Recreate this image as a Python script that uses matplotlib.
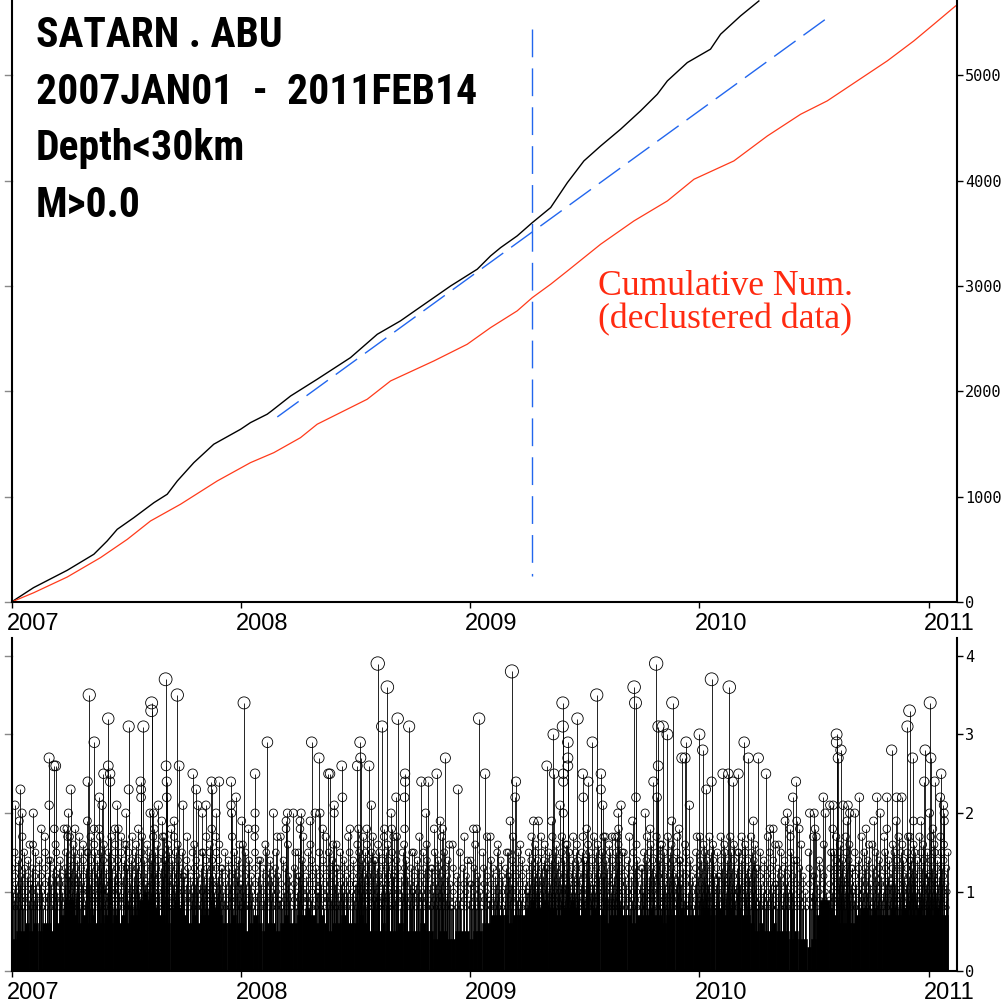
import numpy as np
import matplotlib
matplotlib.use("Agg")
import matplotlib.pyplot as plt
from matplotlib.transforms import ScaledTranslation

plt.rcParams['lines.scale_dashes'] = False

# cumulative number of events (all / declustered), decimal years
black_t = [2007.0, 2007.096, 2007.243, 2007.359, 2007.417, 2007.461, 2007.533, 2007.621,
           2007.679, 2007.723, 2007.795, 2007.882, 2007.999, 2008.042, 2008.115, 2008.134,
           2008.217, 2008.333, 2008.478, 2008.595, 2008.696, 2008.769, 2008.915, 2009.031,
           2009.089, 2009.133, 2009.205, 2009.271, 2009.351, 2009.424, 2009.496, 2009.569,
           2009.656, 2009.743, 2009.816, 2009.860, 2009.947, 2010.048, 2010.092, 2010.179,
           2010.259]
black_n = [0, 136, 301, 453, 579, 690, 800, 943, 1023, 1149, 1323, 1498, 1640, 1703, 1783,
           1814, 1956, 2115, 2320, 2542, 2669, 2780, 3001, 3160, 3286, 3365, 3476, 3602, 3745,
           3982, 4188, 4330, 4489, 4663, 4821, 4948, 5122, 5249, 5391, 5565, 5707]

red_t = [2007.0, 2007.097, 2007.243, 2007.388, 2007.505, 2007.606, 2007.737, 2007.897,
         2008.042, 2008.144, 2008.260, 2008.333, 2008.551, 2008.653, 2008.842, 2008.987,
         2009.089, 2009.205, 2009.271, 2009.351, 2009.424, 2009.569, 2009.714, 2009.860,
         2009.976, 2010.150, 2010.296, 2010.441, 2010.557, 2010.688, 2010.819, 2010.935,
         2011.022, 2011.117]
red_n = [0, 88, 237, 421, 595, 769, 928, 1149, 1323, 1418, 1560, 1688, 1925, 2099, 2289,
         2447, 2605, 2764, 2890, 3017, 3143, 3397, 3618, 3808, 4014, 4188, 4425, 4631, 4758,
         4948, 5138, 5328, 5486, 5660]

trend_t = [2008.159, 2010.550]
trend_n = [1757, 5534]
mark_t = 2009.268
mark_n = [5442, 250]

# larger events: (years after 2007.0, magnitude)
big_events = [
    (0.672, 3.7), (0.339, 3.5), (0.723, 3.5), (0.611, 3.4), (0.611, 3.3), (1.014, 3.4),
    (0.422, 3.2), (0.511, 3.1), (0.575, 3.1), (0.361, 2.9), (1.116, 2.9), (1.309, 2.9),
    (0.164, 2.7), (0.185, 2.6), (0.193, 2.6), (1.341, 2.7), (0.422, 2.6), (0.401, 2.5),
    (0.430, 2.5), (0.430, 2.4), (0.674, 2.6), (0.731, 2.6), (1.062, 2.5), (1.382, 2.5),
    (0.790, 2.5), (0.332, 2.4), (0.563, 2.4), (0.677, 2.4), (0.872, 2.4), (0.905, 2.4),
    (0.957, 2.4), (0.039, 2.3), (0.258, 2.3), (0.511, 2.3), (0.565, 2.3), (0.565, 2.2),
    (0.805, 2.3), (0.876, 2.3), (0.383, 2.2), (0.677, 2.2), (0.979, 2.2), (0.015, 2.1),
    (0.164, 2.1), (0.395, 2.1), (0.459, 2.1), (0.640, 2.1), (0.747, 2.1), (0.812, 2.1),
    (0.848, 2.1), (0.957, 2.1), (0.046, 2.0), (0.095, 2.0), (0.248, 2.0), (0.498, 2.0),
    (0.604, 2.0), (0.619, 2.0), (0.832, 2.0), (0.892, 2.0), (0.960, 2.0), (1.062, 2.0),
    (1.142, 2.0), (1.203, 2.0), (1.229, 2.0), (1.263, 2.0), (1.324, 2.0), (1.345, 2.0),
    (0.034, 1.9), (0.331, 1.9), (0.655, 1.9), (0.709, 1.9), (1.004, 1.9), (1.197, 1.9),
    (1.258, 1.9), (1.302, 1.9),
    (0.130, 1.8), (0.187, 1.8), (0.229, 1.8), (0.241, 1.8), (0.277, 1.8), (0.360, 1.8),
    (0.382, 1.8), (0.451, 1.8), (0.466, 1.8), (0.553, 1.8), (0.623, 1.8), (0.696, 1.8),
    (0.873, 1.8), (1.033, 1.8), (1.062, 1.8), (1.197, 1.8), (1.258, 1.8), (1.357, 1.8),
    (1.597, 3.9), (1.639, 3.6), (1.616, 3.1), (1.684, 3.2), (1.734, 3.1), (1.520, 2.9),
    (1.523, 2.7), (1.508, 2.6), (1.440, 2.6), (1.559, 2.6), (1.389, 2.5), (1.716, 2.5),
    (1.716, 2.4), (1.787, 2.4), (1.818, 2.4), (1.854, 2.5), (1.892, 2.7), (1.946, 2.3),
    (2.039, 3.2), (2.065, 2.5), (2.182, 3.8), (2.200, 2.4), (2.196, 2.2), (2.174, 1.9),
    (2.334, 2.6), (2.363, 3.0), (2.366, 2.5), (2.404, 3.4), (2.404, 3.1), (2.406, 2.5),
    (2.406, 2.4), (2.426, 2.9), (2.426, 2.7), (2.426, 2.6), (2.468, 3.2), (2.491, 2.5),
    (2.516, 2.4), (2.533, 2.9), (2.552, 3.5), (2.570, 2.5), (2.570, 2.3), (2.715, 3.6),
    (2.721, 3.4), (2.799, 2.4), (2.811, 3.9), (2.821, 3.1), (2.820, 2.6),
    (1.443, 2.2), (1.569, 2.1), (1.677, 2.2), (1.714, 2.2), (1.407, 2.1), (1.407, 2.0),
    (1.655, 2.0), (1.806, 2.0), (1.869, 1.9), (2.644, 2.0), (2.658, 2.1), (2.763, 2.0),
    (2.723, 2.2), (2.815, 2.2), (2.392, 2.1), (2.406, 2.0), (2.493, 2.2), (2.578, 2.1),
    (2.276, 1.9), (2.298, 1.9), (2.355, 1.9), (2.708, 1.9), (2.014, 1.8), (2.028, 1.8),
    (1.476, 1.8), (1.513, 1.8), (1.549, 1.8), (1.626, 1.8), (1.658, 1.8), (1.714, 1.8),
    (1.843, 1.8), (1.880, 1.8), (2.508, 1.8), (2.619, 1.7), (2.642, 1.7), (2.647, 1.8),
    (2.785, 1.8),
    (2.840, 3.1), (2.860, 3.0), (2.883, 3.4), (2.923, 2.7), (2.937, 2.7), (2.942, 2.9),
    (2.956, 2.1), (3.000, 3.0), (3.014, 2.8), (3.029, 2.3), (3.053, 3.7), (3.053, 2.4),
    (3.101, 2.5), (3.126, 2.5), (3.130, 3.6), (3.145, 2.4), (3.170, 2.5), (3.195, 2.9),
    (3.213, 2.7), (3.257, 2.7), (3.290, 2.5), (3.421, 2.4), (3.407, 2.2), (3.383, 2.0),
    (3.540, 2.2), (3.598, 3.0), (3.598, 2.9), (3.605, 2.7), (3.617, 2.8), (3.568, 2.1),
    (3.583, 2.1), (3.626, 2.1), (3.648, 2.1), (3.655, 2.0), (3.677, 2.0), (3.697, 2.2),
    (3.480, 2.0), (3.500, 2.0), (3.548, 2.0), (3.773, 2.2), (3.817, 2.2), (3.788, 2.0),
    (3.838, 2.8), (3.860, 2.2), (3.882, 2.2), (3.907, 3.1), (3.916, 3.3), (3.929, 2.7),
    (3.984, 2.8), (3.980, 2.4), (4.006, 3.4), (4.009, 2.7), (4.003, 2.0), (4.025, 2.4),
    (4.054, 2.5), (4.050, 2.2), (4.064, 2.1), (4.067, 2.0), (4.068, 1.9),
    (2.879, 1.9), (3.235, 1.9), (3.373, 1.9), (3.424, 1.9), (3.643, 1.9), (3.759, 1.9),
    (3.858, 1.9), (3.933, 1.9), (3.965, 1.9),
    (2.911, 1.8), (3.307, 1.8), (3.322, 1.8), (3.394, 1.8), (3.435, 1.8), (3.504, 1.8),
    (3.581, 1.8), (3.726, 1.8), (3.817, 1.8), (4.018, 1.8),
]

# monthly counts of events at M0.8, 0.9, ... 1.7 (Jan 2007 .. Jan 2011)
mid_levels = [0.8, 0.9, 1.0, 1.1, 1.2, 1.3, 1.4, 1.5, 1.6, 1.7]
mid_counts = [
    "5544332211", "5544332211", "5544332211", "6655443322", "6655443322", "6655443322",
    "6655443322", "6655443322", "6655443322", "5544332211", "6655443322", "5544332211",
    "5544332211", "5544332211", "4433221111", "5544332211", "5544332211", "5544332211",
    "6655443322", "6655443322", "5544332211", "5544332211", "5544332211", "4433221111",
    "4433221111", "5544332211", "5544332211", "6655443322", "6655443322", "6655443322",
    "6655443322", "6655443322", "5544332211", "6655443322", "6655443322", "5544332211",
    "6655443322", "6655443322", "6655443322", "5544332211", "5544332211", "4433221111",
    "4433221111", "6655443322", "5544332211", "5544332211", "6655443322", "6655443322",
    "6655443322",
]

# weekly height (tenths of magnitude) of the dense band of small events
bulk_weekly = [4, 5, 5, 6, 5, 6, 5, 6, 6, 5, 6, 7, 9, 9, 7, 6, 7, 6, 7, 6, 6,
               7, 6, 7, 6, 7, 6, 7, 7, 9, 10, 9, 8, 7, 7, 6, 8, 9, 8, 7, 6, 7, 6, 7, 7,
               9, 8, 7, 6, 6, 7, 6,
               6, 5, 6, 7, 6, 5, 6, 6, 5, 6, 7, 6, 6, 7, 7, 8, 7, 6, 7, 6, 5, 6, 6, 7, 6, 6,
               6, 7, 6, 5, 5, 5, 6, 5, 5, 5, 6, 5, 5, 5, 5, 6, 5, 5, 4, 5, 5, 4, 4, 5, 5, 5,
               4, 5, 5, 6, 6, 7, 7, 7, 7, 6, 7, 7, 7, 8, 9, 8, 8, 9, 8, 8, 7, 8, 8, 9, 8, 7,
               8, 7, 8, 7, 7, 6, 7, 7, 8, 7, 7, 6, 7, 7, 7, 8, 7, 7, 6, 7, 7, 7, 8, 7, 7, 7,
               7, 8, 8, 7, 8, 8, 7, 8, 7, 8, 7, 7, 6, 5, 6, 5, 5, 6, 5, 5, 5, 4, 5, 4, 4, 3,
               4, 7, 9, 9, 8, 7, 6, 6, 6, 6, 7, 8, 8, 7, 8, 7, 7, 7, 8, 7, 7, 8, 7, 7, 8, 7,
               8, 7, 8, 7, 7]

x0, x1 = 2007.0, 2011.121
years = [2007, 2008, 2009, 2010, 2011]

fig = plt.figure(figsize=(10.01, 10.08), dpi=100)
ax1 = fig.add_axes([0.0115, 0.4028, 0.9441, 0.5972])
ax2 = fig.add_axes([0.0115, 0.0372, 0.9441, 0.3299])

# ---- top: cumulative number ----
ax1.plot(black_t, black_n, color='black', lw=1.0)
ax1.plot(red_t, red_n, color='#ff3a1a', lw=0.9)
ax1.plot(trend_t, trend_n, color='#2266ee', lw=1.0, dashes=(19, 7))
ax1.plot([mark_t, mark_t], mark_n, color='#2266ee', lw=1.0, dashes=(20, 8))
ax1.set_xlim(x0, x1)
ax1.set_ylim(0, 5716)
ax1.set_yticks(range(0, 6000, 1000))
ax1.text(2009.557, 3150, "Cumulative Num.\n(declustered data)", color='#ff2a10',
         fontsize=25.7, family='Liberation Serif', linespacing=0.98, va='top')

# ---- bottom: magnitude vs time ----
bulk_t = x0 + np.arange(len(bulk_weekly)) * 7 / 365.25
ax2.bar(bulk_t, np.array(bulk_weekly) / 10, width=7 / 365.25, align='edge',
        color='black', edgecolor='black', lw=0.4)

# spread each month's counts over the month
mid_t, mid_m = [], []
for k, row in enumerate(mid_counts):
    start = x0 + k / 12
    for i, c in enumerate(row):
        n = int(c)
        phase = (0.618 * (10 * k + i)) % 1
        for j in range(n):
            mid_t.append(start + (j + phase) / n / 12)
            mid_m.append(mid_levels[i])

ev_t = np.array(mid_t + [x0 + e[0] for e in big_events])
ev_m = np.array(mid_m + [e[1] for e in big_events])
ax2.vlines(ev_t, 0, ev_m, color='black', lw=0.6)
diam = (2.5 + 2.8 * ev_m) * 0.72
ax2.scatter(ev_t, ev_m, s=diam ** 2, facecolors='none', edgecolors='black',
            linewidths=0.6, zorder=3)
ax2.set_xlim(x0, x1)
ax2.set_ylim(0, 4.225)
ax2.set_yticks([0, 1, 2, 3, 4])

for ax in (ax1, ax2):
    ax.spines['top'].set_visible(False)
    for s in ('left', 'right', 'bottom'):
        ax.spines[s].set_linewidth(1.5)
    ax.yaxis.tick_right()
    ax.tick_params(axis='y', which='both', direction='out', length=4.5, width=1,
                   labelsize=11, pad=1.5)
    ax.tick_params(axis='x', direction='out', length=4, width=1, labelsize=17, pad=4)
    ax.set_xticks(years)
    ax.set_xticklabels([str(y) for y in years], family='Liberation Sans')
    for lab in ax.get_yticklabels():
        lab.set_family('DejaVu Sans Mono')
    shift = ScaledTranslation(-5 / 100, 0, fig.dpi_scale_trans)
    for lab in ax.get_xticklabels():
        lab.set_horizontalalignment('left')
        lab.set_transform(lab.get_transform() + shift)
    # grey ticks on the left spine, no labels
    for v in ax.get_yticks():
        ax.plot([-0.007, 0], [v, v], transform=ax.get_yaxis_transform(), color='#888888',
                lw=1, clip_on=False)

# title block
title_lines = ["SATARN . ABU", "2007JAN01  -  2011FEB14", "Depth<30km", "M>0.0"]
baselines = [47, 104, 160, 217]
for txt, yb in zip(title_lines, baselines):
    fig.text(36 / 1001, 1 - yb / 1008, txt, fontsize=30, fontweight='bold',
             fontstretch='condensed',
             family=['Roboto Condensed', 'Open Sans Condensed', 'Noto Sans Condensed',
                     'DejaVu Sans'],
             va='baseline', ha='left')

fig.savefig('out.png', dpi=100)
